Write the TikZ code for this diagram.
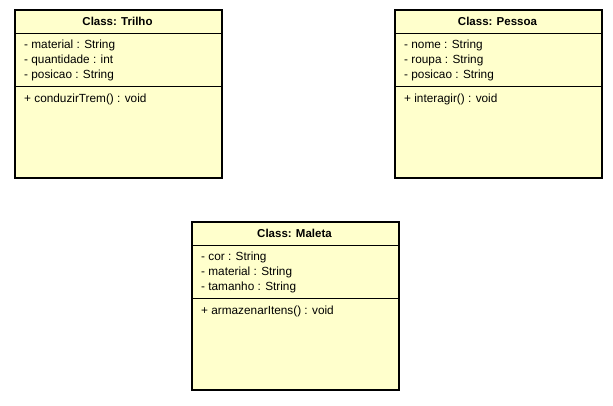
\documentclass[tikz,border=0pt]{standalone}
\usepackage{fontspec}
\setmainfont{Liberation Sans}
\definecolor{classfill}{HTML}{FFFFCC}
\begin{document}
\begin{tikzpicture}[x=1pt,y=-1pt,
  classbox/.style={draw=black,line width=1.8pt,fill=classfill,rectangle,inner sep=0pt,minimum width=207pt,minimum height=168pt,anchor=north west},
  sepline/.style={draw=black,line width=0.9pt},
  ctitle/.style={font=\fontsize{11.5}{13}\selectfont\bfseries,inner sep=0pt,anchor=mid},
  member/.style={font=\fontsize{11.8}{13}\selectfont,inner sep=0pt,anchor=mid west}]
\useasboundingbox (0,0) rectangle (613,405);
% Trilho
\node[classbox] (trilho) at (14,9) {};
\node[ctitle] (trilhoT) at (117.5,22.5) {Class: Trilho};
\coordinate (t1a) at (14,33); \coordinate (t1b) at (221,33);
\coordinate (t2a) at (14,86); \coordinate (t2b) at (221,86);
\draw[sepline] (t1a) -- (t1b);
\draw[sepline] (t2a) -- (t2b);
\node[member] (trilhoA1) at (24,45.5) {- material : String};
\node[member] (trilhoA2) at (24,60.5) {- quantidade : int};
\node[member] (trilhoA3) at (24,75.5) {- posicao : String};
\node[member] (trilhoM1) at (24,99.5) {+ conduzirTrem() : void};
% Pessoa
\node[classbox] (pessoa) at (394,9) {};
\node[ctitle] (pessoaT) at (497.5,22.5) {Class: Pessoa};
\coordinate (p1a) at (394,33); \coordinate (p1b) at (601,33);
\coordinate (p2a) at (394,86); \coordinate (p2b) at (601,86);
\draw[sepline] (p1a) -- (p1b);
\draw[sepline] (p2a) -- (p2b);
\node[member] (pessoaA1) at (404,45.5) {- nome : String};
\node[member] (pessoaA2) at (404,60.5) {- roupa : String};
\node[member] (pessoaA3) at (404,75.5) {- posicao : String};
\node[member] (pessoaM1) at (404,99.5) {+ interagir() : void};
% Maleta
\node[classbox] (maleta) at (191,221) {};
\node[ctitle] (maletaT) at (294.5,234.5) {Class: Maleta};
\coordinate (m1a) at (191,245); \coordinate (m1b) at (398,245);
\coordinate (m2a) at (191,298); \coordinate (m2b) at (398,298);
\draw[sepline] (m1a) -- (m1b);
\draw[sepline] (m2a) -- (m2b);
\node[member] (maletaA1) at (201,257.5) {- cor : String};
\node[member] (maletaA2) at (201,272.5) {- material : String};
\node[member] (maletaA3) at (201,287.5) {- tamanho : String};
\node[member] (maletaM1) at (201,311.5) {+ armazenarItens() : void};
\end{tikzpicture}
\end{document}
